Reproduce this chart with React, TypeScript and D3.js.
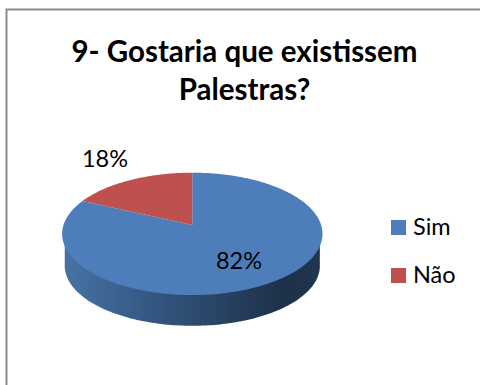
import React from "react";
import * as d3 from "d3";

const categories = ["Sim", "Não"];
const shares = [82, 18];
const sliceColors = ["#4d7ebb", "#be504d"];
const titleLines = ["9- Gostaria que existissem", "Palestras?"];

const FONT = "Lato, 'Open Sans', sans-serif";

// Tilted-disc projection: the slice apex sits above the rim's mid-height,
// which is what a perspective view of a flat circle gives.
const apex = { x: 192.3, y: 225 };
const perspective = -0.1447;
const scaleX = 128.8;
const scaleY = 59.9;

type Pt = [number, number];

function project(angle: number): Pt {
  const u = Math.sin(angle);
  const v = -Math.cos(angle);
  const d = 1 + perspective * v;
  return [apex.x + (scaleX * u) / d, apex.y + (scaleY * v) / d];
}

const toPath = d3.line<Pt>();

function sampleArc(start: number, end: number): Pt[] {
  const steps = Math.max(4, Math.ceil(Math.abs(end - start) / 0.02));
  return d3.range(steps + 1).map((i) => project(start + ((end - start) * i) / steps));
}

export default function App() {
  const arcs = d3.pie<number>().sort(null).value((d) => d)(shares);
  const rim = sampleArc(0, 2 * Math.PI);
  const left = d3.min(rim, (p) => p[0]) as number;
  const right = d3.max(rim, (p) => p[0]) as number;
  const midX = (left + right) / 2;
  const midY = 234;

  // Lower edge of the disc wall: the rim, slightly narrowed and pushed down.
  const lowerRim: Pt[] = rim
    .filter((p) => p[1] >= midY)
    .map((p) => [midX + (p[0] - midX) * 0.98, midY + (p[1] - midY) * 0.98 + 32] as Pt)
    .sort((a, b) => a[0] - b[0]);
  const wall: Pt[] = [
    [lowerRim[0][0], midY],
    ...lowerRim,
    [lowerRim[lowerRim.length - 1][0], midY],
  ];

  const swatchX = 391;
  const legendY = d3.scalePoint<string>().domain(categories).range([227.5, 275.5]);
  const labelPos: Pt[] = [[239, 269], [105, 167]];

  return (
    <svg
      width={480}
      height={385}
      style={{ position: "absolute", left: 0, top: 0, background: "#fff" }}
    >
      <defs>
        <linearGradient id="wallShade" gradientUnits="userSpaceOnUse" x1={left} x2={right} y1={0} y2={0}>
          <stop offset="0" stopColor="#4673a6" />
          <stop offset="0.45" stopColor="#2f4f76" />
          <stop offset="0.85" stopColor="#1d3048" />
          <stop offset="1" stopColor="#20364f" />
        </linearGradient>
      </defs>

      <path d="M6.5,385V9.5H480" fill="none" stroke="#8c8c8c" strokeWidth={2} />

      <g fontFamily={FONT} fontWeight={700} fontSize={29.5} textAnchor="middle" fill="#000">
        {titleLines.map((line, i) => (
          <text key={line} x={244.5} y={62 + i * 38}>
            {line}
          </text>
        ))}
      </g>

      <path d={(toPath(wall) as string) + "Z"} fill="url(#wallShade)" />

      {arcs.map((a, i) => (
        <path
          key={categories[i]}
          d={(toPath([[apex.x, apex.y], ...sampleArc(a.startAngle, a.endAngle)]) as string) + "Z"}
          fill={sliceColors[i]}
        />
      ))}

      <g fontFamily={FONT} fontSize={23.5} textAnchor="middle" fill="#000">
        {shares.map((s, i) => (
          <text key={categories[i]} x={labelPos[i][0]} y={labelPos[i][1]}>
            {s}%
          </text>
        ))}
      </g>

      {categories.map((c, i) => {
        const y = legendY(c) as number;
        return (
          <g key={c}>
            <rect x={swatchX} y={y - 7.5} width={15} height={15} fill={sliceColors[i]} />
            <text x={413} y={y + 7.5} fontFamily={FONT} fontSize={23.5} fill="#000">
              {c}
            </text>
          </g>
        );
      })}
    </svg>
  );
}
